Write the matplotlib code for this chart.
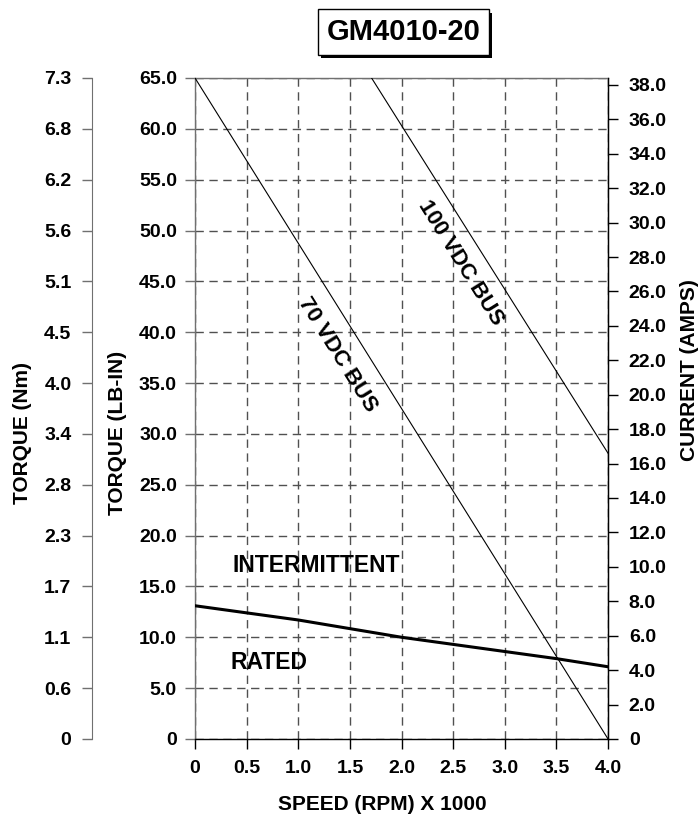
import matplotlib
matplotlib.use('Agg')
import matplotlib.pyplot as plt
import matplotlib.patheffects as pe

plt.rcParams['font.family'] = ['Liberation Sans', 'DejaVu Sans']
plt.rcParams['font.weight'] = 'bold'
plt.rcParams['axes.labelweight'] = 'bold'

# speed (rpm x 1000) vs torque (lb-in)
bus70_speed = [0.0, 4.0]
bus70_torque = [65.0, 0.0]
bus100_speed = [1.71, 4.0]
bus100_torque = [65.0, 28.1]
rated_speed = [0.0, 0.5, 1.0, 1.5, 2.0, 2.5, 3.0, 3.5, 4.0]
rated_torque = [13.1, 12.4, 11.7, 10.85, 10.0, 9.3, 8.6, 7.9, 7.1]

x_ticks = [0, 0.5, 1.0, 1.5, 2.0, 2.5, 3.0, 3.5, 4.0]
x_labels = ['0', '0.5', '1.0', '1.5', '2.0', '2.5', '3.0', '3.5', '4.0']
lbin_ticks = [0, 5, 10, 15, 20, 25, 30, 35, 40, 45, 50, 55, 60, 65]
lbin_labels = ['0', '5.0', '10.0', '15.0', '20.0', '25.0', '30.0', '35.0',
               '40.0', '45.0', '50.0', '55.0', '60.0', '65.0']
nm_labels = ['0', '0.6', '1.1', '1.7', '2.3', '2.8', '3.4', '4.0',
             '4.5', '5.1', '5.6', '6.2', '6.8', '7.3']
amp_ticks = [0, 2, 4, 6, 8, 10, 12, 14, 16, 18, 20, 22, 24, 26, 28, 30, 32, 34, 36, 38]
amp_labels = ['0'] + ['%.1f' % a for a in amp_ticks[1:]]
amp_max = 38.4

fig = plt.figure(figsize=(7, 8.15), dpi=100)
ax = fig.add_axes([0.2786, 0.0933, 0.59, 0.811])

grey = '#707070'
ax.set_xlim(0, 4.0)
ax.set_ylim(0, 65)
ax.set_xticks(x_ticks)
ax.set_xticklabels(x_labels)
ax.set_yticks(lbin_ticks)
ax.set_yticklabels(lbin_labels)
ax.tick_params(axis='both', labelsize=14, length=7, width=1, direction='out')
ax.tick_params(axis='x', pad=8)
ax.tick_params(axis='y', pad=6, color=grey)
ax.grid(True, color='#505050', linewidth=1, dashes=(6, 4))
ax.set_axisbelow(True)
for s in ['top', 'left']:
    ax.spines[s].set_color(grey)
for s in ['bottom', 'right']:
    ax.spines[s].set_color('black')
for s in ax.spines.values():
    s.set_linewidth(1)

ax.plot(bus70_speed, bus70_torque, color='black', lw=0.8, zorder=3)
ax.plot(bus100_speed, bus100_torque, color='black', lw=0.8, zorder=3)
ax.plot(rated_speed, rated_torque, color='black', lw=2.2, zorder=3)

ax.text(0.36, 17.1, 'INTERMITTENT', fontsize=16.5, va='center', ha='left')
ax.text(0.34, 7.5, 'RATED', fontsize=16.5, va='center', ha='left')
ax.text(1.375, 37.8, '70 VDC BUS', fontsize=16, rotation=-58,
        ha='center', va='center', rotation_mode='anchor')
ax.text(2.57, 46.8, '100 VDC BUS', fontsize=16, rotation=-58,
        ha='center', va='center', rotation_mode='anchor')

ax.set_xlabel('SPEED (RPM) X 1000', fontsize=15)
ax.xaxis.set_label_coords(0.453, -0.085)
ax.set_ylabel('TORQUE (LB-IN)', fontsize=15)
ax.yaxis.set_label_coords(-0.165, 0.463)

# current axis on the right
axr = ax.twinx()
axr.set_ylim(0, amp_max)
axr.set_yticks(amp_ticks)
axr.set_yticklabels(amp_labels)
axr.tick_params(axis='y', labelsize=14, length=7, width=1, pad=8)
for s in ['top', 'left', 'bottom']:
    axr.spines[s].set_visible(False)
axr.spines['right'].set_color('black')
axr.set_ylabel('CURRENT (AMPS)', fontsize=15)
axr.yaxis.set_label_coords(1.174, 0.558)

# Nm axis further left
axn = ax.twinx()
axn.set_ylim(0, 65)
axn.yaxis.set_ticks_position('left')
axn.yaxis.set_label_position('left')
for s in ['top', 'right', 'bottom']:
    axn.spines[s].set_visible(False)
axn.spines['left'].set_position(('outward', 74))
axn.spines['left'].set_color(grey)
axn.spines['left'].set_visible(True)
axn.set_yticks(lbin_ticks)
axn.set_yticklabels(nm_labels)
axn.tick_params(axis='y', labelsize=14, length=7, width=1, pad=8, color=grey)
axn.set_ylabel('TORQUE (Nm)', fontsize=15)
axn.yaxis.set_label_coords(-0.395, 0.463)

t = fig.text(0.576, 0.961, 'GM4010-20', fontsize=21, ha='center', va='center',
             bbox=dict(boxstyle='square,pad=0.3', facecolor='white',
                       edgecolor='black', linewidth=1))
t.get_bbox_patch().set_path_effects([
    pe.SimplePatchShadow(offset=(2.5, -2.5), shadow_rgbFace='black', alpha=1),
    pe.Normal()])

fig.savefig('out.png', dpi=100)
